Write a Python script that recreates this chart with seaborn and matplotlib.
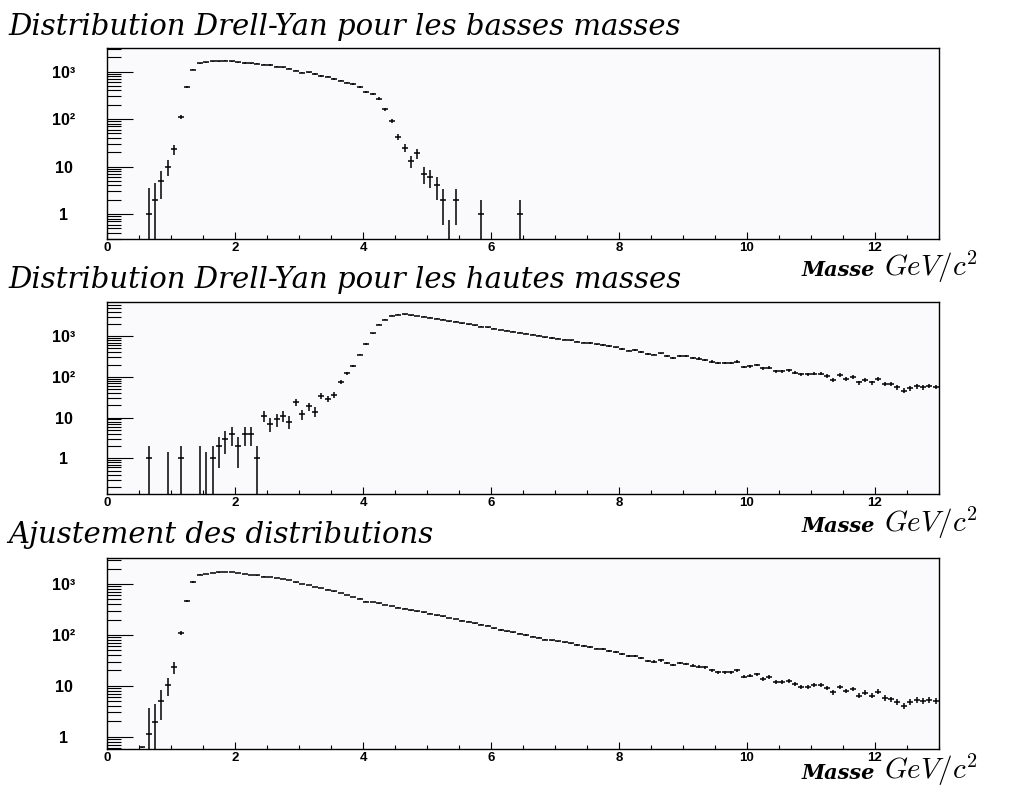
import numpy as np
import pandas as pd
import matplotlib
matplotlib.use("Agg")
import matplotlib.pyplot as plt
import matplotlib.ticker as mticker
import seaborn as sns

# 130 bins of 0.1 GeV/c^2 between 0 and 13
bin_edges = np.linspace(0, 13, 131)
mass = 0.5 * (bin_edges[:-1] + bin_edges[1:])

counts_low = [
    0, 0, 0, 0, 0, 0, 1, 2, 5, 10,
    23, 110, 465, 1100, 1490, 1560, 1630, 1650, 1690, 1660,
    1580, 1510, 1490, 1460, 1390, 1370, 1270, 1220, 1140, 1040,
    950, 960, 890, 810, 780, 690, 645, 585, 550, 480,
    376, 336, 269, 159, 92, 42, 25, 13, 19, 7,
    6, 4, 2, 0, 2, 0, 0, 0, 1, 0,
    0, 0, 0, 0, 1, 0, 0, 0, 0, 0,
] + [0] * 60

counts_high = [
    0, 0, 0, 0, 0, 0, 1, 0, 0, 0,
    0, 1, 0, 0, 0, 0, 1, 2, 3, 4,
    2, 4, 4, 1, 11, 7, 9, 11, 8, 24,
    12, 19, 14, 34, 29, 36, 76, 124, 187, 355,
    650, 1170, 1900, 2570, 3170, 3400, 3420, 3280, 3150, 3000,
    2850, 2700, 2560, 2330, 2250, 2080, 1960, 1850, 1720, 1650,
    1520, 1420, 1380, 1290, 1230, 1150, 1090, 1030, 950, 900,
    870, 820, 790, 730, 700, 680, 630, 610, 570, 535,
    479, 445, 460, 412, 362, 355, 376, 323, 299, 335,
    323, 288, 283, 262, 239, 218, 218, 218, 239, 177,
    183, 198, 161, 170, 138, 138, 146, 128, 116, 116,
    121, 121, 106, 86, 112, 91, 100, 73, 85, 73,
    88, 67, 67, 55, 46, 53, 59, 56, 60, 57,
]

counts_fit = [
    0, 0, 0, 0, 0, 0.62, 1.13, 1.97, 5.1, 10.2,
    23, 110, 470, 1095, 1520, 1590, 1640, 1690, 1720, 1700,
    1640, 1560, 1520, 1480, 1400, 1380, 1330, 1250, 1190, 1080,
    1010, 960, 880, 830, 780, 715, 670, 610, 560, 515,
    450, 440, 420, 385, 370, 345, 330, 305, 290, 278,
    260, 245, 232, 215, 205, 190, 180, 170, 160, 150,
    135, 125, 118, 112, 106, 100, 93, 88, 81, 78,
    75, 71, 68, 63, 61, 58, 54, 52, 49, 46,
    42, 38, 39, 35, 31, 30, 31.6, 28, 25.6, 28,
    26.8, 24.8, 23.7, 23, 20.4, 18.4, 18.4, 18.4, 20.4, 15.1,
    15.8, 16.8, 13.6, 14.9, 12.0, 12.0, 12.6, 11.0, 9.6, 9.6,
    10.2, 10.2, 9.0, 7.5, 9.5, 7.9, 8.6, 6.4, 7.3, 6.4,
    7.7, 5.8, 5.4, 4.9, 4.1, 4.9, 5.3, 5.1, 5.3, 5.1,
]

# bins whose content is below the axis: only the error bar shows (centre -> top)
ghost_low = {5.35: 0.75}
ghost_high = {0.95: 1.4, 1.45: 2.0, 1.55: 1.4}
ghost_fit = {}

# weighted first bins have larger errors than sqrt(N)
err_low_first = [2.6, 2.4, 2.9, 3.8, 5.5]          # bins 0.65 .. 1.05
err_fit_first = [0.02, 2.6, 2.4, 3.0, 3.8, 5.8]    # bins 0.55 .. 1.05

err_low = np.sqrt(np.array(counts_low, float))
err_low[6:11] = err_low_first
err_high = np.sqrt(np.array(counts_high, float))
fit_weight = np.where(mass < 1.5, 1.0, 0.085)
err_fit = np.sqrt(fit_weight * np.array(counts_fit, float))
err_fit[5:11] = err_fit_first

W, H = 1018, 790
sns.set_style("ticks")
plt.rcParams.update({
    "axes.facecolor": "#fafafc",
    "text.color": "black",
    "xtick.color": "black",
    "ytick.color": "black",
    "axes.edgecolor": "black",
})

fig = plt.figure(figsize=(W / 100, H / 100), dpi=100)


def px_axes(top, bottom, left=107, right=939):
    return fig.add_axes([left / W, 1 - bottom / H, (right - left) / W, (bottom - top) / H])


def draw_hist(ax, counts, errs, ghosts, ylim):
    df = pd.DataFrame({"mass": mass, "n": counts, "err": errs})
    filled = df[df.n > 0]
    lo = np.clip(filled.n - filled.err, 1e-4, None)
    hi = filled.n + filled.err
    ax.vlines(filled.mass, lo, hi, color="black", lw=1.1)
    sns.scatterplot(data=filled, x="mass", y="n", marker="_", s=21, color="black",
                    linewidth=1.1, ax=ax, legend=False)
    for x, top in ghosts.items():
        ax.vlines(x, 1e-4, top, color="black", lw=1.1)

    ax.set_yscale("log", nonpositive="clip")
    ax.set_xlim(0, 13)
    ax.set_ylim(*ylim)
    ax.set_xlabel("")
    ax.set_ylabel("")

    ax.xaxis.set_major_locator(mticker.MultipleLocator(2))
    ax.xaxis.set_minor_locator(mticker.MultipleLocator(0.5))
    ax.tick_params(axis="x", which="major", direction="in", length=5, width=0.8,
                   labelsize=9.5, pad=2, top=False)
    ax.tick_params(axis="x", which="minor", direction="in", length=3, width=0.8, top=False)
    for lab in ax.get_xticklabels():
        lab.set_fontweight("bold")
        lab.set_family("Liberation Sans")

    ax.set_yticks([1, 10, 100, 1000])
    ax.set_yticklabels(["1", "10", "10²", "10³"], ha="center",
                       fontweight="bold", family="Liberation Sans", fontsize=11.5)
    ax.yaxis.set_minor_locator(mticker.LogLocator(base=10, subs=np.arange(2, 10), numticks=20))
    ax.yaxis.set_minor_formatter(mticker.NullFormatter())
    ax.tick_params(axis="y", which="major", direction="in", length=18.5, width=0.8,
                   pad=31, right=False)
    ax.tick_params(axis="y", which="minor", direction="in", length=10, width=0.8, right=False)
    ax.set_ylim(*ylim)

    for s in ax.spines.values():
        s.set_visible(True)
        s.set_linewidth(1.0)
        s.set_color("black")


ax1 = px_axes(48, 239)
draw_hist(ax1, counts_low, err_low, ghost_low, (0.298, 3125))
ax2 = px_axes(302, 494)
draw_hist(ax2, counts_high, err_high, ghost_high, (0.133, 6920))
ax3 = px_axes(558, 749)
draw_hist(ax3, counts_fit, err_fit, ghost_fit, (0.573, 3245))

titles = [
    ("Distribution Drell-Yan pour les basses masses", 35),
    ("Distribution Drell-Yan pour les hautes masses", 288),
    ("Ajustement des distributions", 543),
]
for txt, y in titles:
    fig.text(8 / W, 1 - y / H, txt, family="DejaVu Serif", style="italic",
             fontsize=21, va="baseline", ha="left", color="black")

for y in (276, 532, 779):
    fig.text(802 / W, 1 - y / H, "Masse", family="DejaVu Serif", style="italic",
             fontweight="bold", fontsize=15, va="baseline", ha="left", color="black")
    fig.text(884 / W, 1 - y / H, r"$GeV/c^{2}$", math_fontfamily="cm",
             fontsize=21, va="baseline", ha="left", color="black")

fig.savefig("out.png", dpi=100)
